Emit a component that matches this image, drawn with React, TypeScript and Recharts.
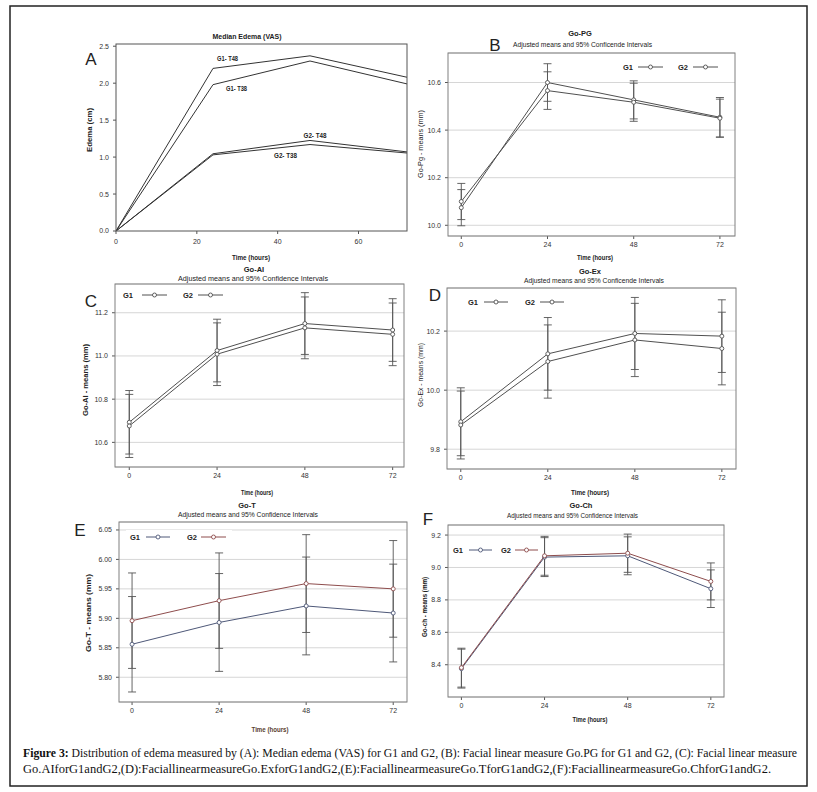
import React from "react";
import { CartesianGrid, ErrorBar, Line, LineChart, XAxis, YAxis } from "recharts";

const hours = [0, 24, 48, 72];

// A: median edema (VAS), cm
const edemaG1T48 = [0, 2.2, 2.37, 2.08];
const edemaG1T38 = [0, 1.98, 2.3, 1.99];
const edemaG2T48 = [0, 1.045, 1.225, 1.07];
const edemaG2T38 = [0, 1.03, 1.17, 1.055];

// B: Go-PG adjusted means and 95% CI half widths
const goPgG1 = [10.074, 10.6, 10.527, 10.454];
const goPgG1Ci = [0.076, 0.079, 0.08, 0.083];
const goPgG2 = [10.1, 10.566, 10.517, 10.45];
const goPgG2Ci = [0.076, 0.079, 0.08, 0.08];

// C: Go-AI
const goAiG1 = [10.693, 11.025, 11.15, 11.12];
const goAiG1Ci = [0.147, 0.145, 0.143, 0.145];
const goAiG2 = [10.676, 11.008, 11.13, 11.1];
const goAiG2Ci = [0.146, 0.145, 0.143, 0.145];

// D: Go-Ex
const goExG1 = [9.893, 10.123, 10.192, 10.183];
const goExG1Ci = [0.115, 0.123, 0.122, 0.123];
const goExG2 = [9.882, 10.097, 10.17, 10.141];
const goExG2Ci = [0.115, 0.124, 0.124, 0.123];

// E: Go-T
const goTG1 = [5.856, 5.893, 5.921, 5.909];
const goTG1Ci = [0.081, 0.083, 0.083, 0.083];
const goTG2 = [5.896, 5.93, 5.959, 5.95];
const goTG2Ci = [0.081, 0.081, 0.083, 0.082];

// F: Go-Ch
const goChG1 = [8.376, 9.064, 9.072, 8.869];
const goChG1Ci = [0.12, 0.12, 0.117, 0.116];
const goChG2 = [8.382, 9.072, 9.088, 8.914];
const goChG2Ci = [0.12, 0.12, 0.118, 0.114];

const ticksA = [0, 20, 40, 60];
const ticksHours = [0, 24, 48, 72];
const yTicksA = [0, 0.5, 1, 1.5, 2, 2.5];
const yTicksB = [10.0, 10.2, 10.4, 10.6];
const yTicksC = [10.6, 10.8, 11.0, 11.2];
const yTicksD = [9.8, 10.0, 10.2];
const yTicksE = [5.8, 5.85, 5.9, 5.95, 6.0, 6.05];
const yTicksF = [8.4, 8.6, 8.8, 9.0, 9.2];

const FONT = "'Liberation Sans Narrow', 'Liberation Sans', Arial, sans-serif";
const GRAY = "#505050";
const BLUE = "#4e5878";
const RED = "#8e4d4d";

const rowsOf = (cols: Record<string, number[]>) =>
  hours.map((h, i) => {
    const r: Record<string, number> = { h };
    Object.keys(cols).forEach((k) => (r[k] = cols[k][i]));
    return r;
  });

type Box = { l: number; t: number; r: number; b: number };
type Series = { key: string; err?: string; color: string };

function Panel(p: {
  box: Box;
  xDomain: [number, number];
  yDomain: [number, number];
  xTicks: number[];
  yTicks: number[];
  digits: number;
  rows: Record<string, number>[];
  series: Series[];
  grid?: boolean;
  dots?: boolean;
  xMargin?: number;
}) {
  const padL = 45, padT = 6, padR = 6, padB = 24;
  const w = p.box.r - p.box.l;
  const h = p.box.b - p.box.t;
  const tick = { fontSize: 7, fill: "#333", fontFamily: FONT };
  return (
    <div style={{ position: "absolute", left: p.box.l - padL, top: p.box.t - padT }}>
      <LineChart
        width={w + padL + padR}
        height={h + padT + padB}
        data={p.rows}
        margin={{ top: padT, right: padR, bottom: 0, left: 0 }}
      >
        {p.grid && <CartesianGrid vertical={false} stroke="#d6d6d6" />}
        <XAxis
          dataKey="h"
          type="number"
          domain={p.xDomain}
          ticks={p.xTicks}
          allowDataOverflow
          interval={0}
          height={padB}
          axisLine={false}
          tickLine={{ stroke: "#555" }}
          tickSize={3}
          tickMargin={p.xMargin ?? 3}
          tick={tick}
        />
        <YAxis
          type="number"
          domain={p.yDomain}
          ticks={p.yTicks}
          allowDataOverflow
          interval={0}
          width={padL}
          axisLine={false}
          tickLine={{ stroke: "#555" }}
          tickSize={3}
          tickMargin={4}
          tick={tick}
          tickFormatter={(v: number) => v.toFixed(p.digits)}
        />
        {p.series.map((s) => (
          <Line
            key={s.key}
            dataKey={s.key}
            type="linear"
            stroke={s.color}
            strokeWidth={1}
            dot={p.dots ? { r: 2, fill: "#fff", stroke: s.color, strokeWidth: 0.9 } : false}
            activeDot={false}
            isAnimationActive={false}
          >
            {s.err && (
              <ErrorBar
                dataKey={s.err}
                direction="y"
                width={4}
                stroke="#555"
                strokeWidth={0.9}
                isAnimationActive={false}
              />
            )}
          </Line>
        ))}
      </LineChart>
    </div>
  );
}

const boxA: Box = { l: 116, t: 44, r: 407, b: 231 };
const boxB: Box = { l: 448, t: 53, r: 735, b: 236 };
const boxC: Box = { l: 115, t: 284, r: 404, b: 467 };
const boxD: Box = { l: 447, t: 288, r: 736, b: 469 };
const boxE: Box = { l: 119, t: 522, r: 407, b: 702 };
const boxF: Box = { l: 448, t: 525, r: 724, b: 697 };

function Legend({ x, y, c1, c2, bg }: { x: number[]; y: number; c1: string; c2: string; bg?: boolean }) {
  // x = [g1 text start, g1 line start, g1 line end, g2 text start, g2 line start, g2 line end]
  const item = (tx: number, a: number, b: number, label: string, c: string) => (
    <g key={label}>
      <text x={tx} y={y} fontSize={7.5} fontWeight="bold" fontFamily={FONT} fill="#222" dominantBaseline="central">
        {label}
      </text>
      <line x1={a} y1={y} x2={b} y2={y} stroke={c} strokeWidth={1} />
      <circle cx={(a + b) / 2} cy={y} r={2} fill="#fff" stroke={c} strokeWidth={0.9} />
    </g>
  );
  return (
    <g>
      {bg && <rect x={x[0] - 4} y={y - 7} width={x[5] - x[0] + 10} height={14} fill="#fff" />}
      {item(x[0], x[1], x[2], "G1", c1)}
      {item(x[3], x[4], x[5], "G2", c2)}
    </g>
  );
}

function T(props: {
  x: number;
  y: number;
  s: string;
  size?: number;
  bold?: boolean;
  len?: number;
  rot?: boolean;
  fill?: string;
  font?: string;
  anchor?: "middle" | "start";
}) {
  return (
    <text
      x={props.x}
      y={props.y}
      fontSize={props.size ?? 7}
      fontWeight={props.bold ? "bold" : "normal"}
      fontFamily={props.font ?? FONT}
      fill={props.fill ?? "#222"}
      textAnchor={props.anchor ?? "middle"}
      dominantBaseline="central"
      textLength={props.len}
      lengthAdjust={props.len ? "spacingAndGlyphs" : undefined}
      transform={props.rot ? `rotate(-90 ${props.x} ${props.y})` : undefined}
    >
      {props.s}
    </text>
  );
}

const frame = (b: Box, c: string) => (
  <rect x={b.l} y={b.t} width={b.r - b.l} height={b.b - b.t} fill="none" stroke={c} strokeWidth={1} />
);

const LETTER = "'Liberation Sans', Arial, sans-serif";

export default function App() {
  const rowsA = rowsOf({ a: edemaG1T48, b: edemaG1T38, c: edemaG2T48, d: edemaG2T38 });
  const rowsB = rowsOf({ g1: goPgG1, g1e: goPgG1Ci, g2: goPgG2, g2e: goPgG2Ci });
  const rowsC = rowsOf({ g1: goAiG1, g1e: goAiG1Ci, g2: goAiG2, g2e: goAiG2Ci });
  const rowsD = rowsOf({ g1: goExG1, g1e: goExG1Ci, g2: goExG2, g2e: goExG2Ci });
  const rowsE = rowsOf({ g1: goTG1, g1e: goTG1Ci, g2: goTG2, g2e: goTG2Ci });
  const rowsF = rowsOf({ g1: goChG1, g1e: goChG1Ci, g2: goChG2, g2e: goChG2Ci });
  const grayPair: Series[] = [
    { key: "g1", err: "g1e", color: GRAY },
    { key: "g2", err: "g2e", color: GRAY },
  ];
  const colorPair: Series[] = [
    { key: "g1", err: "g1e", color: BLUE },
    { key: "g2", err: "g2e", color: RED },
  ];
  const sub1 = "Adjusted means and 95% Conficende Intervals";
  const sub2 = "Adjusted means and 95% Confidence Intervals";

  return (
    <div style={{ position: "fixed", left: 0, top: 0, width: 817, height: 792, overflow: "hidden", background: "#fff" }}>
      <Panel
        box={boxA}
        xDomain={[0, 72]}
        yDomain={[0, 2.53]}
        xTicks={ticksA}
        yTicks={yTicksA}
        digits={1}
        rows={rowsA}
        xMargin={5}
        series={[
          { key: "a", color: "#333" },
          { key: "b", color: "#333" },
          { key: "c", color: "#333" },
          { key: "d", color: "#333" },
        ]}
      />
      <Panel box={boxB} xDomain={[-3.7, 76.2]} yDomain={[9.955, 10.724]} xTicks={ticksHours} yTicks={yTicksB} digits={1} rows={rowsB} series={grayPair} grid dots />
      <Panel box={boxC} xDomain={[-3.9, 75.1]} yDomain={[10.486, 11.333]} xTicks={ticksHours} yTicks={yTicksC} digits={1} rows={rowsC} series={grayPair} grid dots />
      <Panel box={boxD} xDomain={[-3.8, 75.9]} yDomain={[9.733, 10.346]} xTicks={ticksHours} yTicks={yTicksD} digits={1} rows={rowsD} series={grayPair} grid dots />
      <Panel box={boxE} xDomain={[-3.6, 75.8]} yDomain={[5.758, 6.0635]} xTicks={ticksHours} yTicks={yTicksE} digits={2} rows={rowsE} series={colorPair} grid dots />
      <Panel box={boxF} xDomain={[-3.87, 75.8]} yDomain={[8.201, 9.262]} xTicks={ticksHours} yTicks={yTicksF} digits={1} rows={rowsF} series={colorPair} grid dots />

      <svg width={817} height={792} style={{ position: "absolute", left: 0, top: 0, pointerEvents: "none" }}>
        {frame(boxA, "#555")}
        {frame(boxB, "#808080")}
        {frame(boxC, "#808080")}
        {frame(boxD, "#808080")}
        {frame(boxE, "#808080")}
        {frame(boxF, "#808080")}

        {/* A */}
        <T x={247} y={36} s="Median Edema (VAS)" bold size={7.5} len={69} />
        <T x={91} y={59} s="A" size={17} font={LETTER} />
        <T x={89} y={130} s="Edema (cm)" bold rot len={44} />
        <T x={251} y={257} s="Time (hours)" bold len={38} />
        <T x={227.5} y={58} s="G1- T48" bold size={6.5} len={21} />
        <T x={236.5} y={88} s="G1- T38" bold size={6.5} len={21} />
        <T x={315} y={135} s="G2- T48" bold size={6.5} len={23} />
        <T x={285.5} y={155} s="G2- T38" bold size={6.5} len={23} />

        {/* B */}
        <T x={580} y={33} s="Go-PG" bold size={7.5} />
        <T x={582.5} y={44} s={sub1} len={139} />
        <T x={495} y={45} s="B" size={17} font={LETTER} />
        <T x={420} y={144} s="Go-Pg - means (mm)" rot len={68} />
        <T x={595} y={257} s="Time (hours)" bold len={36} />
        <Legend x={[623, 638, 663, 678, 693, 718]} y={67} c1={GRAY} c2={GRAY} />

        {/* C */}
        <T x={254} y={269} s="Go-AI" bold size={7.5} />
        <T x={253} y={278} s={sub2} len={150} />
        <T x={91} y={301} s="C" size={17} font={LETTER} />
        <T x={85} y={380} s="Go-AI - means (mm)" bold rot len={72} />
        <T x={257} y={492} s="Time (hours)" bold len={32} />
        <Legend x={[123, 142, 167, 183, 198, 223]} y={295} c1={GRAY} c2={GRAY} />

        {/* D */}
        <T x={590} y={271} s="Go-Ex" bold size={7.5} />
        <T x={594} y={280} s={sub1} len={140} />
        <T x={435} y={295} s="D" size={17} font={LETTER} />
        <T x={420} y={375} s="Go-Ex - means (mm)" rot len={64} />
        <T x={590} y={492} s="Time (hours)" bold len={38} />
        <Legend x={[468, 484, 508, 525, 540, 564]} y={302} c1={GRAY} c2={GRAY} />

        {/* E */}
        <T x={247} y={505} s="Go-T" bold size={7.5} />
        <T x={248} y={514} s={sub2} len={140} />
        <T x={80} y={530} s="E" size={17} font={LETTER} />
        <T x={88} y={613} s="Go-T - means (mm)" bold rot len={78} />
        <T x={270} y={729} s="Time (hours)" bold len={37} fill="#5a4030" />
        <Legend x={[130, 146, 170, 187, 201, 226]} y={537} c1={BLUE} c2={RED} bg />

        {/* F */}
        <T x={581} y={505} s="Go-Ch" bold size={7.5} />
        <T x={572.5} y={515} s={sub2} len={131} />
        <T x={428} y={519} s="F" size={17} font={LETTER} />
        <T x={424} y={607} s="Go-ch - means (mm)" bold rot len={60} />
        <T x={590} y={719} s="Time (hours)" bold len={35} />
        <Legend x={[453, 469, 492, 501, 515, 538]} y={550} c1={BLUE} c2={RED} />

        {/* caption */}
        <text x={23} y={757} fontSize={11.5} fontFamily="'Liberation Serif', serif" fill="#111" textLength={774} lengthAdjust="spacingAndGlyphs">
          <tspan fontWeight="bold">Figure 3:</tspan>
          <tspan> Distribution of edema measured by (A): Median edema (VAS) for G1 and G2, (B): Facial linear measure Go.PG for G1 and G2, (C): Facial linear measure</tspan>
        </text>
        <text x={23} y={773} fontSize={11.5} fontFamily="'Liberation Serif', serif" fill="#111" textLength={748} lengthAdjust="spacingAndGlyphs">
          Go.AIforG1andG2,(D):FaciallinearmeasureGo.ExforG1andG2,(E):FaciallinearmeasureGo.TforG1andG2,(F):FaciallinearmeasureGo.ChforG1andG2.
        </text>

        <rect x={10} y={6} width={797} height={780} fill="none" stroke="#222" strokeWidth={1.5} />
      </svg>
    </div>
  );
}
